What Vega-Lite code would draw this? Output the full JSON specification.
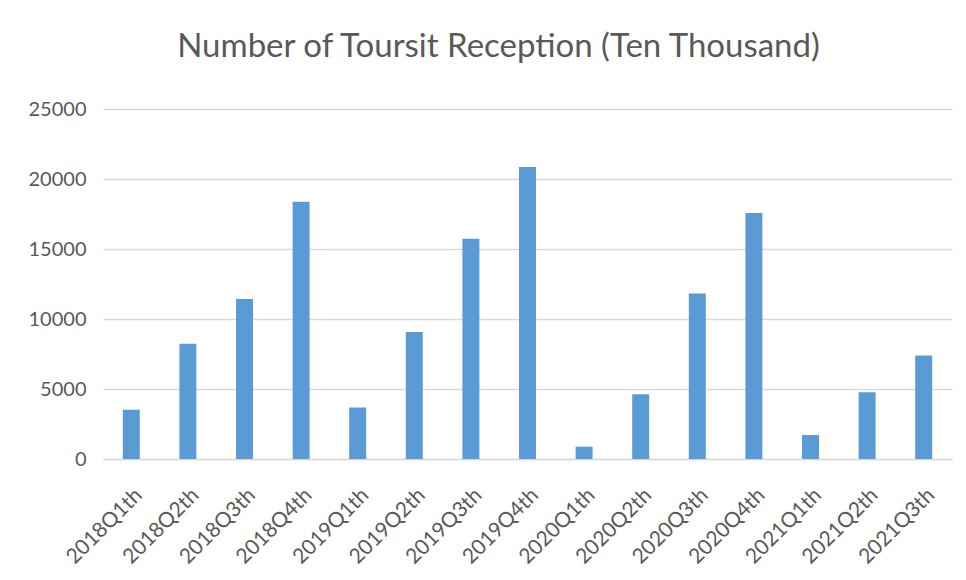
{
  "$schema": "https://vega.github.io/schema/vega-lite/v6.json",
  "width": 849,
  "height": 350,
  "autosize": "none",
  "padding": {"left": 103, "top": 109, "right": 14, "bottom": 121},
  "background": "white",
  "title": {
    "text": "Number of Toursit Reception (Ten Thousand)",
    "font": "Lato",
    "fontSize": 33,
    "fontWeight": "normal",
    "color": "#595959",
    "baseline": "alphabetic",
    "offset": 9,
    "dx": -29
  },
  "data": {
    "values": [
      {"quarter": "2018Q1th", "value": 3520},
      {"quarter": "2018Q2th", "value": 8240},
      {"quarter": "2018Q3th", "value": 11430},
      {"quarter": "2018Q4th", "value": 18380},
      {"quarter": "2019Q1th", "value": 3670},
      {"quarter": "2019Q2th", "value": 9070},
      {"quarter": "2019Q3th", "value": 15740},
      {"quarter": "2019Q4th", "value": 20860},
      {"quarter": "2020Q1th", "value": 880},
      {"quarter": "2020Q2th", "value": 4620},
      {"quarter": "2020Q3th", "value": 11830},
      {"quarter": "2020Q4th", "value": 17570},
      {"quarter": "2021Q1th", "value": 1710},
      {"quarter": "2021Q2th", "value": 4760},
      {"quarter": "2021Q3th", "value": 7400}
    ]
  },
  "mark": {"type": "bar", "color": "#5B9BD5"},
  "encoding": {
    "x": {
      "field": "quarter",
      "type": "nominal",
      "sort": null,
      "scale": {"paddingInner": 0.7, "paddingOuter": 0.35},
      "axis": {
        "title": null,
        "labelAngle": -45,
        "labelFont": "Lato",
        "labelFontSize": 21,
        "labelColor": "#595959",
        "labelPadding": 25,
        "labelOffset": 0,
        "ticks": false,
        "domainColor": "#d9d9d9",
        "domainWidth": 1.5
      }
    },
    "y": {
      "field": "value",
      "type": "quantitative",
      "scale": {"domain": [0, 25000]},
      "axis": {
        "title": null,
        "values": [0, 5000, 10000, 15000, 20000, 25000],
        "format": "d",
        "labelFont": "Lato",
        "labelFontSize": 20,
        "labelColor": "#595959",
        "labelPadding": 17,
        "ticks": false,
        "domain": false,
        "gridColor": "#d9d9d9",
        "gridWidth": 1.5
      }
    }
  },
  "config": {"view": {"stroke": null}}
}
